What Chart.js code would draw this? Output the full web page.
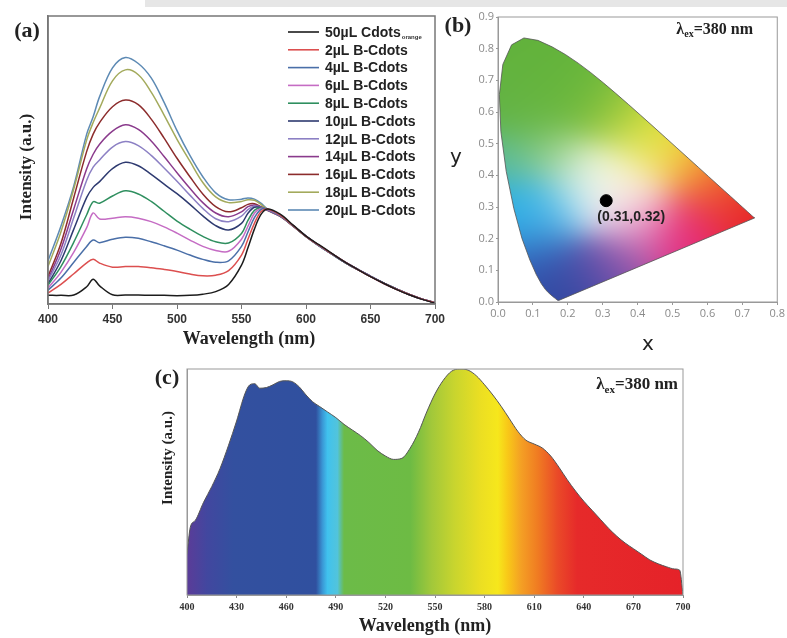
<!DOCTYPE html>
<html>
<head>
<meta charset="utf-8">
<script src="https://cdn.jsdelivr.net/npm/chart.js@4.4.1/dist/chart.umd.min.js"></script>
<style>
  html, body { margin: 0; padding: 0; background: #fff; }
  #page { position: relative; width: 787px; height: 638px; overflow: hidden; background: #fff; }
  .band { position: absolute; left: 145px; top: 0; width: 642px; height: 7px; background: #e6e6e6; }
  canvas { position: absolute; }
  #chart-a { left: 0; top: 0; }
  #chart-b { left: 440px; top: 0; }
  #chart-c { left: 150px; top: 340px; }
</style>
</head>
<body>
<div id="page">
  <div class="band"></div>
  <canvas id="chart-a" width="450" height="355"></canvas>
  <canvas id="chart-b" width="347" height="360"></canvas>
  <canvas id="chart-c" width="550" height="298"></canvas>
</div>
<script>
// ── (a) emission spectra ─────────────────────────────────
const waveA = [400, 410, 420, 430, 435, 440, 450, 460, 470, 480, 490, 500, 510, 520, 530, 540, 550, 555, 560, 565, 570, 580, 590, 600, 610, 620, 630, 640, 650, 660, 670, 680, 690, 700];
const cdots50 = [3.0, 3.0, 3.1, 6.0, 8.6, 6.3, 3.2, 3.1, 3.1, 3.0, 3.0, 2.9, 3.0, 3.4, 4.3, 6.8, 13.5, 19.5, 26.0, 31.0, 33.0, 31.2, 27.4, 23.6, 20.6, 17.6, 14.6, 12.0, 9.5, 7.2, 5.1, 3.2, 1.6, 0.3];
const b2 = [3.8, 6.8, 10.5, 14.3, 15.5, 14.2, 12.8, 13.0, 13.0, 12.6, 12.0, 11.3, 10.4, 9.8, 10.0, 11.6, 17.0, 22.5, 28.0, 32.0, 33.0, 30.9, 27.2, 23.5, 20.4, 17.5, 14.6, 12.0, 9.5, 7.2, 5.1, 3.3, 1.7, 0.4];
const b4 = [4.8, 9.0, 14.5, 20.0, 22.2, 21.3, 22.5, 23.2, 22.8, 21.6, 20.2, 18.7, 17.0, 15.5, 14.5, 15.0, 20.0, 25.0, 30.0, 32.8, 33.0, 30.8, 27.1, 23.5, 20.3, 17.4, 14.5, 12.0, 9.6, 7.3, 5.2, 3.3, 1.7, 0.4];
const b6 = [5.5, 11.0, 18.0, 26.5, 31.6, 29.5, 29.8, 30.3, 29.8, 28.6, 26.8, 24.6, 22.2, 20.0, 18.6, 18.3, 22.5, 27.0, 31.5, 33.2, 32.8, 30.7, 27.2, 23.5, 20.3, 17.4, 14.6, 12.0, 9.6, 7.2, 5.2, 3.3, 1.7, 0.4];
const b8 = [6.5, 13.0, 21.5, 31.0, 35.5, 35.0, 37.5, 39.3, 38.2, 35.6, 32.2, 28.8, 26.0, 23.5, 21.6, 21.2, 24.5, 29.0, 32.5, 33.4, 32.8, 30.6, 27.1, 23.4, 20.2, 17.3, 14.5, 12.0, 9.6, 7.3, 5.2, 3.3, 1.7, 0.4];
const b10 = [7.0, 15.0, 26.0, 37.0, 40.5, 42.5, 47.0, 49.2, 48.0, 45.0, 41.6, 38.3, 34.6, 30.6, 27.2, 25.7, 28.0, 31.5, 33.6, 33.5, 32.7, 30.6, 27.2, 23.6, 20.4, 17.5, 14.6, 12.1, 9.7, 7.3, 5.2, 3.3, 1.7, 0.4];
const b12 = [8.0, 17.0, 30.0, 43.0, 47.5, 50.0, 54.5, 56.4, 55.0, 51.6, 47.2, 42.6, 37.8, 33.2, 29.6, 28.6, 30.5, 32.8, 34.0, 33.6, 32.6, 30.5, 27.1, 23.5, 20.3, 17.4, 14.6, 12.0, 9.6, 7.3, 5.2, 3.3, 1.7, 0.4];
const b14 = [8.5, 19.0, 33.0, 47.0, 52.0, 55.5, 60.0, 62.2, 60.6, 56.6, 51.2, 45.6, 40.2, 35.2, 31.6, 30.3, 32.0, 33.8, 34.4, 33.7, 32.6, 30.5, 27.1, 23.5, 20.3, 17.4, 14.5, 12.0, 9.6, 7.3, 5.2, 3.3, 1.7, 0.4];
const b16 = [9.5, 21.0, 37.0, 53.0, 59.0, 63.0, 68.5, 70.8, 69.2, 64.2, 57.6, 50.6, 44.2, 38.2, 33.8, 32.0, 33.4, 34.6, 34.8, 33.8, 32.5, 30.4, 27.0, 23.5, 20.3, 17.4, 14.5, 12.0, 9.6, 7.3, 5.2, 3.3, 1.7, 0.4];
const b18 = [13.0, 25.0, 40.0, 57.0, 63.0, 68.0, 77.5, 81.3, 79.6, 73.6, 65.6, 57.2, 49.6, 42.2, 37.2, 35.2, 35.6, 36.2, 36.0, 34.6, 32.8, 30.5, 27.1, 23.5, 20.3, 17.4, 14.5, 12.0, 9.6, 7.3, 5.2, 3.3, 1.7, 0.4];
const b20 = [15.0, 27.0, 41.0, 59.0, 65.0, 72.0, 82.0, 85.6, 83.5, 78.5, 70.0, 60.2, 51.6, 44.2, 38.6, 36.2, 36.4, 36.8, 36.4, 35.0, 33.0, 30.6, 27.2, 23.6, 20.4, 17.5, 14.6, 12.0, 9.6, 7.3, 5.2, 3.3, 1.7, 0.4];
const seriesA = [cdots50, b2, b4, b6, b8, b10, b12, b14, b16, b18, b20];
const labelsA = ['50µL Cdots', '2µL B-Cdots', '4µL B-Cdots', '6µL B-Cdots', '8µL B-Cdots', '10µL B-Cdots', '12µL B-Cdots', '14µL B-Cdots', '16µL B-Cdots', '18µL B-Cdots', '20µL B-Cdots'];
const ticksA = [400, 450, 500, 550, 600, 650, 700];

// ── (b) CIE 1931 chromaticity ────────────────────────────
const cieX = [0.1741, 0.1733, 0.1714, 0.1689, 0.1644, 0.1566, 0.1440, 0.1355, 0.1241, 0.1096, 0.0913, 0.0687, 0.0454, 0.0235, 0.0082, 0.0039, 0.0139, 0.0389, 0.0743, 0.1142, 0.1547, 0.1929, 0.2296, 0.2658, 0.3016, 0.3373, 0.3731, 0.4087, 0.4441, 0.4788, 0.5125, 0.5448, 0.5752, 0.6029, 0.6270, 0.6482, 0.6658, 0.6801, 0.6915, 0.7006, 0.7079, 0.7140, 0.7190, 0.7260, 0.7300, 0.7334, 0.7347, 0.1741];
const cieY = [0.0050, 0.0048, 0.0051, 0.0069, 0.0109, 0.0177, 0.0297, 0.0399, 0.0578, 0.0868, 0.1327, 0.2007, 0.2950, 0.4127, 0.5384, 0.6548, 0.7502, 0.8120, 0.8338, 0.8262, 0.8059, 0.7816, 0.7543, 0.7243, 0.6923, 0.6589, 0.6245, 0.5896, 0.5547, 0.5202, 0.4866, 0.4544, 0.4242, 0.3965, 0.3725, 0.3514, 0.3340, 0.3197, 0.3083, 0.2993, 0.2920, 0.2859, 0.2809, 0.2740, 0.2700, 0.2666, 0.2653, 0.0050];
const whitePoint = [0.31, 0.32];
const ticksBX = [0, 0.1, 0.2, 0.3, 0.4, 0.5, 0.6, 0.7, 0.8];
const ticksBY = [0, 0.1, 0.2, 0.3, 0.4, 0.5, 0.6, 0.7, 0.8, 0.9];

// ── (c) white-light spectrum ─────────────────────────────
const waveC = [400, 402, 405, 410, 415, 420, 425, 430, 435, 438, 441, 444, 448, 452, 456, 460, 464, 468, 472, 476, 480, 485, 490, 495, 500, 505, 510, 515, 520, 525, 530, 535, 540, 545, 550, 555, 560, 565, 570, 575, 580, 585, 590, 595, 600, 605, 610, 615, 620, 625, 630, 635, 640, 645, 650, 655, 660, 665, 670, 675, 680, 685, 690, 695, 698, 700];
const intensC = [18, 30, 33, 41, 48, 56, 66, 77, 89, 93, 93.5, 91.5, 91.8, 93, 94.5, 94.8, 94.3, 92, 88.5, 85.5, 83.5, 81, 78.5, 75.5, 73, 70.5, 67.5, 64, 61.5, 60, 60.5, 65, 72, 81, 89, 95, 99, 100, 99.5, 97, 93, 88.5, 83.5, 78, 72.5, 68.5, 66.8, 65, 61.5, 56.5, 51, 46, 41.5, 37.5, 33.5, 29.5, 26, 23, 20.5, 18, 15.5, 13.8, 12.5, 11.5, 11, 0];
const ticksC = [400, 430, 460, 490, 520, 550, 580, 610, 640, 670, 700];

// ── styles ───────────────────────────────────────────────
const lineColors = ['#1c1c1c', '#dc4f4f', '#4a6fa8', '#c56cc4', '#2f8f5f', '#2e3a70', '#8c80c4', '#8a3a8c', '#8c2c2c', '#a3aa5c', '#5d8ab4'];
const SERIF = '"Liberation Serif", "Times New Roman", serif';
const SANS = '"Liberation Sans", Arial, sans-serif';
const specStops = [[400, '#5b3c98'], [412, '#42479f'], [428, '#33509f'], [478, '#30509f'], [482, '#3a98d6'], [485, '#40c2ee'], [491, '#52c4dc'], [495, '#6cbb48'], [535, '#6dbb44'], [548, '#a2c83a'], [562, '#c9d52e'], [578, '#ecdf22'], [588, '#f6e71c'], [594, '#f8c818'], [602, '#f4a024'], [612, '#f07c22'], [624, '#ea4a28'], [636, '#e62a2a'], [700, '#e52229']];
const cieAnchors = [
    { x: 0.08, y: 0.80, c: [98, 178, 60] },
    { x: 0.02, y: 0.64, c: [98, 178, 66] },
    { x: 0.15, y: 0.70, c: [100, 180, 60] },
    { x: 0.24, y: 0.64, c: [108, 184, 60] },
    { x: 0.10, y: 0.58, c: [104, 182, 66] },
    { x: 0.33, y: 0.58, c: [150, 198, 60] },
    { x: 0.42, y: 0.53, c: [210, 222, 58] },
    { x: 0.47, y: 0.48, c: [244, 232, 62] },
    { x: 0.55, y: 0.42, c: [244, 160, 52] },
    { x: 0.63, y: 0.35, c: [238, 92, 45] },
    { x: 0.71, y: 0.28, c: [230, 32, 38] },
    { x: 0.56, y: 0.25, c: [232, 40, 96] },
    { x: 0.50, y: 0.20, c: [226, 40, 136] },
    { x: 0.41, y: 0.25, c: [232, 150, 200] },
    { x: 0.36, y: 0.14, c: [150, 85, 170] },
    { x: 0.27, y: 0.10, c: [84, 76, 168] },
    { x: 0.18, y: 0.04, c: [48, 72, 160] },
    { x: 0.12, y: 0.16, c: [50, 96, 184] },
    { x: 0.06, y: 0.30, c: [36, 174, 232] },
    { x: 0.11, y: 0.27, c: [60, 182, 236] },
    { x: 0.03, y: 0.45, c: [90, 186, 150] },
    { x: 0.16, y: 0.46, c: [160, 212, 140] },
    { x: 0.20, y: 0.31, c: [140, 210, 240] },
    { x: 0.31, y: 0.33, c: [255, 255, 255] },
    { x: 0.27, y: 0.40, c: [236, 246, 226] },
    { x: 0.38, y: 0.41, c: [250, 246, 196] },
    { x: 0.39, y: 0.31, c: [248, 226, 234] }
];

function pts(xs, ys) { return xs.map((x, i) => ({ x, y: ys[i] })); }

function fixedSize(w, h) {
    return s => { if (w != null) s.width = w; if (h != null) s.height = h; };
}

function drawText(ctx, txt, x, y, font, color, align, base) {
    ctx.font = font;
    ctx.fillStyle = color || '#222';
    ctx.textAlign = align || 'center';
    ctx.textBaseline = base || 'middle';
    ctx.fillText(txt, x, y);
}

function drawRotated(ctx, txt, x, y, font) {
    ctx.save();
    ctx.translate(x, y);
    ctx.rotate(-Math.PI / 2);
    drawText(ctx, txt, 0, 0, font, '#222');
    ctx.restore();
}

function drawLambda(ctx, xRight, y, size) {
    ctx.font = `bold ${size}px ${SERIF}`;
    const w1 = ctx.measureText('λ').width;
    const w3 = ctx.measureText('=380 nm').width;
    ctx.font = `bold ${Math.round(size * 0.62)}px ${SERIF}`;
    const w2 = ctx.measureText('ex').width;
    let x = xRight - (w1 + w2 + w3);
    drawText(ctx, 'λ', x, y, `bold ${size}px ${SERIF}`, '#222', 'left');
    drawText(ctx, 'ex', x + w1, y + size * 0.28, `bold ${Math.round(size * 0.62)}px ${SERIF}`, '#222', 'left');
    drawText(ctx, '=380 nm', x + w1 + w2, y, `bold ${size}px ${SERIF}`, '#222', 'left');
}

function frame(color, width) {
    return {
        id: 'frame',
        afterDraw(chart) {
            const { ctx, chartArea: a } = chart;
            ctx.save();
            ctx.strokeStyle = color;
            ctx.lineWidth = width;
            ctx.strokeRect(a.left, a.top, a.right - a.left, a.bottom - a.top);
            ctx.restore();
        }
    };
}

// ── Chart (a) ────────────────────────────────────────────
const textA = {
    id: 'textA',
    afterDraw(chart) {
        const ctx = chart.ctx;
        ctx.save();
        drawText(ctx, '(a)', 27, 31, `bold 22px ${SERIF}`, '#222');
        drawText(ctx, 'Wavelength (nm)', 249, 339, `bold 18px ${SERIF}`, '#222');
        drawRotated(ctx, 'Intensity (a.u.)', 27, 167, `bold 17px ${SERIF}`);
        chart.data.datasets.forEach((ds, i) => {
            const y = 32 + i * 17.8;
            ctx.strokeStyle = ds.borderColor;
            ctx.lineWidth = 1.6;
            ctx.beginPath();
            ctx.moveTo(288, y);
            ctx.lineTo(319, y);
            ctx.stroke();
            drawText(ctx, ds.label, 325, y + 1, `bold 14px ${SANS}`, '#222', 'left');
            if (ds.sub) {
                ctx.font = `bold 14px ${SANS}`;
                const w = ctx.measureText(ds.label).width;
                drawText(ctx, ds.sub, 326 + w, y + 5, `bold 6px ${SANS}`, '#333', 'left');
            }
        });
        ctx.restore();
    }
};

new Chart(document.getElementById('chart-a'), {
    type: 'line',
    data: {
        datasets: seriesA.map((s, i) => ({
            label: labelsA[i],
            sub: i === 0 ? 'orange' : null,
            data: pts(waveA, s),
            borderColor: lineColors[i],
            borderWidth: 1.5,
            pointRadius: 0,
            tension: 0.35,
            fill: false
        }))
    },
    options: {
        responsive: false,
        animation: false,
        devicePixelRatio: 1,
        layout: { padding: { top: 16, right: 15, left: 0, bottom: 0 } },
        plugins: { legend: { display: false }, tooltip: { enabled: false } },
        scales: {
            x: {
                type: 'linear', min: 400, max: 700,
                afterBuildTicks: s => { s.ticks = ticksA.map(v => ({ value: v })); },
                ticks: { color: '#333', font: { family: SANS, size: 12, weight: 'bold' }, padding: 3, maxRotation: 0 },
                grid: { drawOnChartArea: false, color: '#777', tickLength: 5 },
                border: { color: '#777', width: 1.5 },
                afterFit: fixedSize(null, 51)
            },
            y: {
                min: 0, max: 100,
                ticks: { display: false },
                grid: { display: false },
                border: { color: '#777', width: 1.5 },
                afterFit: fixedSize(48, null)
            }
        }
    },
    plugins: [frame('#777', 1.5), textA]
});

// ── Chart (b) ────────────────────────────────────────────
// smooth colour field: gaussian-weighted blend of anchor colours
function fieldColor(vx, vy) {
    let sw = 0, r = 0, g = 0, b = 0;
    for (const a of cieAnchors) {
        const dx = vx - a.x, dy = vy - a.y;
        const w = Math.exp(-(dx * dx + dy * dy) / 0.011) + 1e-9;
        sw += w; r += w * a.c[0]; g += w * a.c[1]; b += w * a.c[2];
    }
    return [r / sw, g / sw, b / sw];
}

const cieFill = {
    id: 'cieFill',
    beforeDatasetsDraw(chart) {
        const { ctx, chartArea: a, scales: { x, y } } = chart;
        const w = Math.round(a.right - a.left), h = Math.round(a.bottom - a.top);
        const off = document.createElement('canvas');
        off.width = w; off.height = h;
        const octx = off.getContext('2d');
        const img = octx.createImageData(w, h);
        for (let py = 0; py < h; py++) {
            const vy = y.getValueForPixel(a.top + py + 0.5);
            for (let px = 0; px < w; px++) {
                const vx = x.getValueForPixel(a.left + px + 0.5);
                const c = fieldColor(vx, vy);
                const k = (py * w + px) * 4;
                img.data[k] = c[0]; img.data[k + 1] = c[1]; img.data[k + 2] = c[2]; img.data[k + 3] = 255;
            }
        }
        octx.putImageData(img, 0, 0);
        ctx.save();
        ctx.beginPath();
        cieX.forEach((v, i) => {
            const px = x.getPixelForValue(v), py = y.getPixelForValue(cieY[i]);
            if (i === 0) ctx.moveTo(px, py); else ctx.lineTo(px, py);
        });
        ctx.closePath();
        ctx.clip();
        ctx.drawImage(off, a.left, a.top);
        ctx.restore();
    }
};

const textB = {
    id: 'textB',
    afterDraw(chart) {
        const { ctx, scales: { x, y } } = chart;
        ctx.save();
        drawText(ctx, '(b)', 18, 26, `bold 22px ${SERIF}`, '#222');
        drawText(ctx, 'y', 16, 158, `20px "DejaVu Sans", ${SANS}`, '#222');
        drawText(ctx, 'x', 208, 345, `20px "DejaVu Sans", ${SANS}`, '#222');
        drawLambda(ctx, 313, 30, 16);
        const px = x.getPixelForValue(whitePoint[0]), py = y.getPixelForValue(whitePoint[1]);
        drawText(ctx, '(' + whitePoint[0].toFixed(2) + ',' + whitePoint[1].toFixed(2) + ')', px + 25, py + 16, `bold 14px ${SANS}`, '#222');
        ctx.restore();
    }
};

const tickB = {
    color: '#8a8a8a', font: { family: '"Open Sans", ' + SANS, size: 11 }, padding: 2, maxRotation: 0,
    callback: v => Number(v).toFixed(1)
};

new Chart(document.getElementById('chart-b'), {
    type: 'scatter',
    data: {
        datasets: [
            { data: [{ x: whitePoint[0], y: whitePoint[1] }], pointRadius: 6, pointBackgroundColor: '#000', pointBorderColor: '#000' },
            { data: pts(cieX, cieY), showLine: true, borderColor: '#555', borderWidth: 0.8, pointRadius: 0, fill: false, tension: 0 }
        ]
    },
    options: {
        responsive: false,
        animation: false,
        devicePixelRatio: 1,
        layout: { padding: { top: 17, right: 7, left: 0, bottom: 0 } },
        plugins: { legend: { display: false }, tooltip: { enabled: false } },
        scales: {
            x: {
                type: 'linear', min: 0, max: 0.8,
                afterBuildTicks: s => { s.ticks = ticksBX.map(v => ({ value: v })); },
                ticks: tickB,
                grid: { drawOnChartArea: false, color: '#999', tickLength: 3 },
                border: { color: '#999', width: 1 },
                afterFit: fixedSize(null, 58)
            },
            y: {
                type: 'linear', min: 0, max: 0.9,
                afterBuildTicks: s => { s.ticks = ticksBY.map(v => ({ value: v })); },
                ticks: tickB,
                grid: { drawOnChartArea: false, color: '#999', tickLength: 2 },
                border: { color: '#999', width: 1 },
                afterFit: fixedSize(58, null)
            }
        }
    },
    plugins: [cieFill, frame('#999', 1), textB]
});

// ── Chart (c) ────────────────────────────────────────────
const textC = {
    id: 'textC',
    afterDraw(chart) {
        const ctx = chart.ctx;
        ctx.save();
        drawText(ctx, '(c)', 17, 38, `bold 22px ${SERIF}`, '#222');
        drawRotated(ctx, 'Intensity (a.u.)', 18, 118, `bold 15px ${SERIF}`);
        drawText(ctx, 'Wavelength (nm)', 275, 286, `bold 18px ${SERIF}`, '#222');
        drawLambda(ctx, 528, 45, 17);
        ctx.restore();
    }
};

new Chart(document.getElementById('chart-c'), {
    type: 'line',
    data: {
        datasets: [{
            data: pts(waveC, intensC),
            borderColor: '#555',
            borderWidth: 1,
            pointRadius: 0,
            cubicInterpolationMode: 'monotone',
            fill: 'origin',
            backgroundColor: context => {
                const { ctx, chartArea, scales } = context.chart;
                if (!chartArea) return null;
                const x = scales.x;
                const x0 = x.getPixelForValue(400), x1 = x.getPixelForValue(700);
                const g = ctx.createLinearGradient(x0, 0, x1, 0);
                specStops.forEach(([w, c]) => g.addColorStop((w - 400) / 300, c));
                return g;
            }
        }]
    },
    options: {
        responsive: false,
        animation: false,
        devicePixelRatio: 1,
        layout: { padding: { top: 29, right: 17, left: 0, bottom: 0 } },
        plugins: { legend: { display: false }, tooltip: { enabled: false } },
        scales: {
            x: {
                type: 'linear', min: 400, max: 700,
                afterBuildTicks: s => { s.ticks = ticksC.map(v => ({ value: v })); },
                ticks: { color: '#333', font: { family: SERIF, size: 10, weight: 'bold' }, padding: 3, maxRotation: 0 },
                grid: { drawOnChartArea: false, color: '#888', tickLength: 3 },
                border: { color: '#999', width: 1 },
                afterFit: fixedSize(null, 43)
            },
            y: {
                min: 0, max: 100,
                ticks: { display: false },
                grid: { display: false },
                border: { color: '#999', width: 1 },
                afterFit: fixedSize(37, null)
            }
        }
    },
    plugins: [frame('#999', 1), textC]
});
</script>
</body>
</html>
